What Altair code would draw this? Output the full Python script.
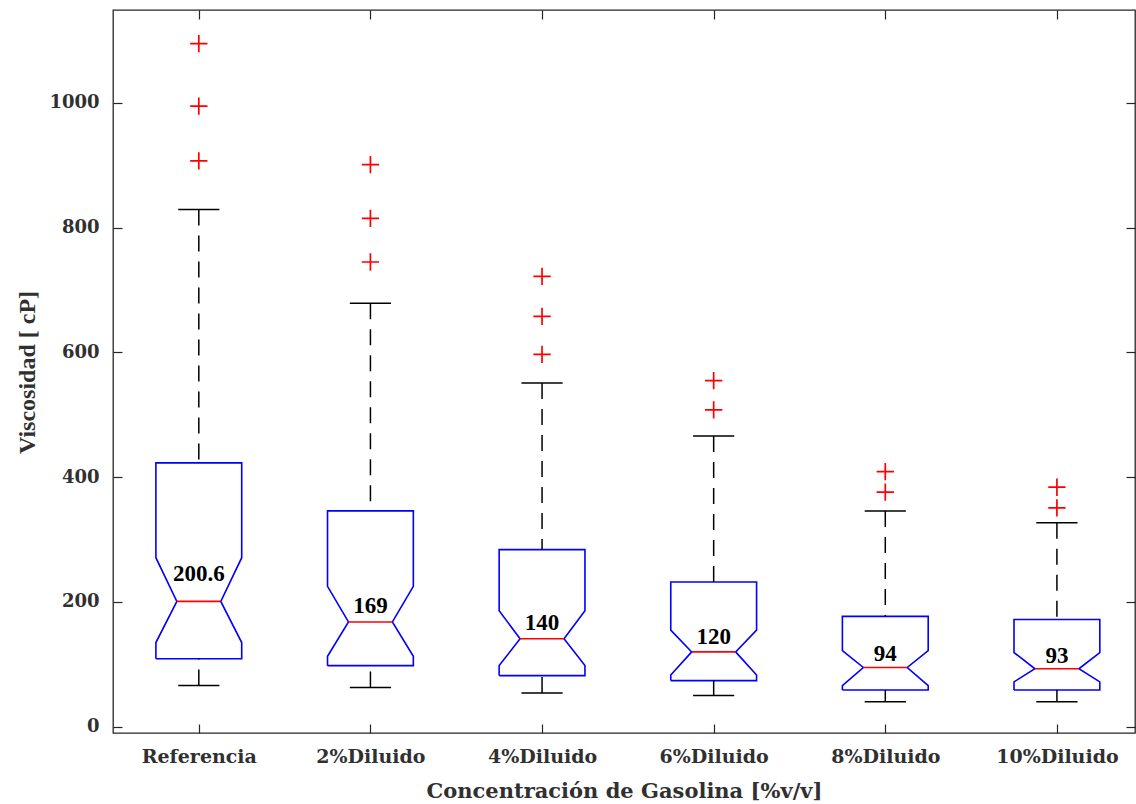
import json
import altair as alt
import pandas as pd

# ---- data ----
categories = ["Referencia", "2%Diluido", "4%Diluido", "6%Diluido", "8%Diluido", "10%Diluido"]
positions = [1, 2, 3, 4, 5, 6]
median = [201, 168, 141, 120, 95, 93]
q1 = [109, 98, 82, 74, 59, 59]
q3 = [423, 346, 284, 232, 177, 172]
notch_lo = [135, 113, 98, 83, 66, 72]
notch_hi = [271, 225, 186, 155, 122, 119]
whisk_lo = [66, 63, 54, 50, 40, 40]
whisk_hi = [829, 679, 551, 466, 346, 327]
outliers = [[1095, 995, 907], [901, 815, 745], [722, 658, 597], [555, 508], [409, 376], [384, 351]]
median_labels = ["200.6", "169", "140", "120", "94", "93"]
label_y = [233, 183, 155, 133, 105, 103]
y_ticks = [0, 200, 400, 600, 800, 1000]

# ---- geometry constants (box shape, in x units) ----
HALF = 0.25
NOTCH = 0.128
CAP = 0.12

poly_rows, whisk_rows, cap_rows, med_rows, out_rows, lab_rows = [], [], [], [], [], []
for i, c in enumerate(positions):
    pts = [(c - HALF, q1[i]), (c - HALF, notch_lo[i]), (c - NOTCH, median[i]),
           (c - HALF, notch_hi[i]), (c - HALF, q3[i]), (c + HALF, q3[i]),
           (c + HALF, notch_hi[i]), (c + NOTCH, median[i]), (c + HALF, notch_lo[i]),
           (c + HALF, q1[i]), (c - HALF, q1[i])]
    for k, (x, y) in enumerate(pts):
        poly_rows.append({"box": categories[i], "o": k, "x": x, "y": y})
    whisk_rows.append({"x": c, "y": whisk_hi[i], "y2": q3[i]})
    whisk_rows.append({"x": c, "y": whisk_lo[i], "y2": q1[i]})
    cap_rows.append({"xa": c - CAP, "xb": c + CAP, "y": whisk_hi[i]})
    cap_rows.append({"xa": c - CAP, "xb": c + CAP, "y": whisk_lo[i]})
    med_rows.append({"xa": c - NOTCH, "xb": c + NOTCH, "y": median[i]})
    for v in outliers[i]:
        out_rows.append({"x": c, "y": v})
    lab_rows.append({"x": c, "y": label_y[i], "t": median_labels[i]})

xscale = alt.Scale(domain=[0.5, 6.455], nice=False, zero=False)
yscale = alt.Scale(domain=[-10, 1149], nice=False, zero=False)

AX = "#262626"
label_expr = json.dumps(categories) + "[datum.value - 1]"

x_bottom = alt.Axis(values=positions, labelExpr=label_expr, orient="bottom", offset=-9,
                    tickSize=9, tickColor=AX, tickWidth=1.2, domain=False, grid=False,
                    labelFont="DejaVu Serif", labelFontWeight="bold", labelFontSize=19,
                    labelColor="#303030", labelPadding=14, labelBaseline="top",
                    title="Concentración de Gasolina [%v/v]", titleFont="DejaVu Serif",
                    titleFontWeight="bold", titleFontSize=21, titleColor="#303030",
                    titleX=511, titleY=73, titleBaseline="alphabetic", titleAlign="center")
y_left = alt.Axis(values=y_ticks, format="d", orient="left", offset=-9, tickSize=9,
                  tickColor=AX, tickWidth=1.2, domain=False, grid=False,
                  labelFont="DejaVu Serif", labelFontWeight="bold", labelFontSize=18,
                  labelColor="#303030", labelPadding=14,
                  title="Viscosidad [ cP]", titleFont="Liberation Serif",
                  titleFontWeight="bold", titleFontSize=24, titleColor="#303030",
                  titleAngle=-90, titleX=-95, titleY=362, titleBaseline="middle",
                  titleAlign="center")
x_top = alt.Axis(values=positions, orient="top", offset=-9, tickSize=9, tickColor=AX,
                 tickWidth=1.2, domain=False, grid=False, labels=False, title=None)
y_right = alt.Axis(values=y_ticks, orient="right", offset=-9, tickSize=9, tickColor=AX,
                   tickWidth=1.2, domain=False, grid=False, labels=False, title=None)

boxes = alt.Chart(pd.DataFrame(poly_rows)).mark_line(
    color="#0000FF", strokeWidth=1.6, strokeJoin="miter"
).encode(
    x=alt.X("x:Q", scale=xscale, axis=x_bottom),
    y=alt.Y("y:Q", scale=yscale, axis=y_left),
    detail="box:N",
    order="o:Q",
)

whiskers = alt.Chart(pd.DataFrame(whisk_rows)).mark_rule(
    color="black", strokeWidth=1.5, strokeDash=[16, 10]
).encode(
    x=alt.X("x:Q", scale=xscale, axis=None),
    y=alt.Y("y:Q", scale=yscale, axis=None),
    y2="y2:Q",
)

caps = alt.Chart(pd.DataFrame(cap_rows)).mark_rule(color="black", strokeWidth=1.5).encode(
    x=alt.X("xa:Q", scale=xscale, axis=None),
    x2="xb:Q",
    y=alt.Y("y:Q", scale=yscale, axis=None),
)

medians = alt.Chart(pd.DataFrame(med_rows)).mark_rule(color="#FF0000", strokeWidth=1.6).encode(
    x=alt.X("xa:Q", scale=xscale, axis=None),
    x2="xb:Q",
    y=alt.Y("y:Q", scale=yscale, axis=None),
)

outs = alt.Chart(pd.DataFrame(out_rows)).mark_point(
    shape="M-1,0L1,0M0,-1L0,1", size=300, filled=False, stroke="#FF0000", strokeWidth=1.7,
    opacity=1
).encode(
    x=alt.X("x:Q", scale=xscale, axis=x_top),
    y=alt.Y("y:Q", scale=yscale, axis=y_right),
)

labels = alt.Chart(pd.DataFrame(lab_rows)).mark_text(
    font="Liberation Serif", fontWeight="bold", fontSize=23, color="black",
    align="center", baseline="alphabetic"
).encode(
    x=alt.X("x:Q", scale=xscale, axis=None),
    y=alt.Y("y:Q", scale=yscale, axis=None),
    text="t:N",
)

chart = alt.layer(boxes, whiskers, caps, medians, outs, labels).resolve_axis(
    x="independent", y="independent"
).properties(
    width=1022, height=723,
    autosize=alt.AutoSizeParams(type="none"),
    padding={"left": 113, "top": 10, "right": 1, "bottom": 71},
    background="white",
).configure_view(stroke=AX, strokeWidth=1.3)

chart.save("out.html", embed_options={"renderer": "svg", "actions": False})
